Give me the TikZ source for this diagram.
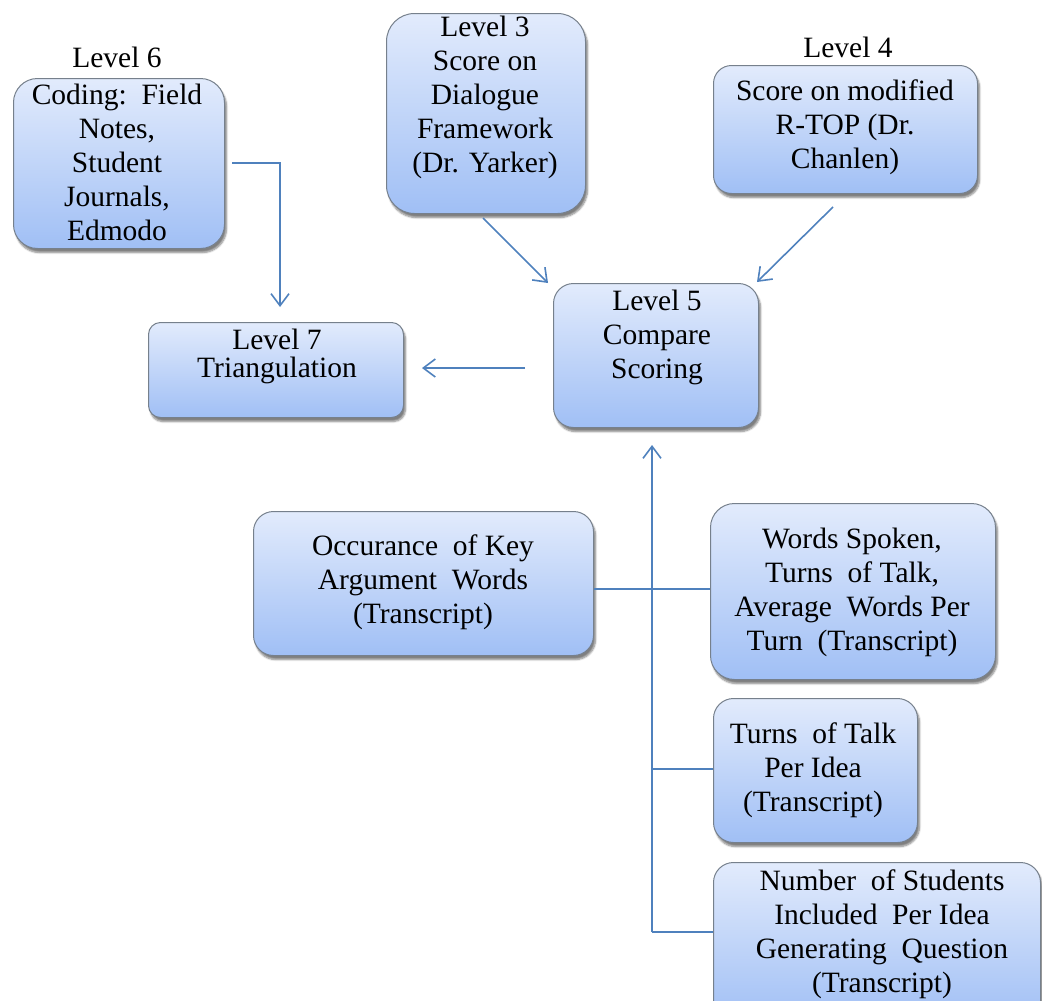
\documentclass[tikz,border=0pt]{standalone}
\usepackage{fontspec}
\setmainfont{LiberationSerif}[Extension=.ttf, UprightFont=*-Regular, BoldFont=*-Bold]
\usetikzlibrary{arrows.meta,shadows.blur}
\definecolor{boxtop}{RGB}{226,235,252}
\definecolor{boxbot}{RGB}{160,191,245}
\definecolor{boxline}{RGB}{118,128,140}
\definecolor{conn}{RGB}{79,129,189}
\tikzset{
  flowbox/.style={draw=boxline, line width=1pt, top color=boxtop, bottom color=boxbot,
    inner sep=0pt, anchor=north west,
    blur shadow={shadow xshift=2pt, shadow yshift=-4pt, shadow blur steps=6, shadow opacity=50}},
  txt/.style={align=center, text=black, inner sep=0pt, font=\fontsize{29.5}{34}\selectfont},
  conline/.style={draw=conn, line width=1.6pt},
  conarrow/.style={conline, -{Straight Barb[length=12pt,width=18pt,line width=1.6pt]}}
}
\begin{document}
\begin{tikzpicture}[x=1pt,y=-1pt]
\useasboundingbox (0,0) rectangle (1042,1001);
\begin{scope}
\clip (0,0) rectangle (1042,1001);
% boxes
\node[flowbox, rounded corners=24pt, minimum width=211pt, minimum height=170pt] (b6) at (13,78) {};
\node[flowbox, rounded corners=28pt, minimum width=199pt, minimum height=200pt] (b3) at (386,13) {};
\node[flowbox, rounded corners=18pt, minimum width=264pt, minimum height=128pt] (b4) at (713,65) {};
\node[flowbox, rounded corners=20pt, minimum width=205pt, minimum height=144pt] (b5) at (553,283) {};
\node[flowbox, rounded corners=12pt, minimum width=255pt, minimum height=95pt] (b7) at (148,322) {};
\node[flowbox, rounded corners=20pt, minimum width=340pt, minimum height=144pt] (bo) at (253,511) {};
\node[flowbox, rounded corners=24pt, minimum width=285pt, minimum height=176pt] (bw) at (710,503) {};
\node[flowbox, rounded corners=20pt, minimum width=204pt, minimum height=144pt] (bt) at (713,698) {};
\node[flowbox, rounded corners=20pt, minimum width=327pt, minimum height=160pt] (bn) at (713,862) {};
\end{scope}
% texts
\node[txt] (l6) at (117,57) {Level 6};
\node[txt] (t6) at (117,162) {Coding:\ \ Field\\Notes,\\Student\\Journals,\\Edmodo};
\node[txt] (t3) at (485,97) {Level 3\\Score on\\Dialogue\\Framework\\(Dr. Yarker)};
\node[txt] (l4) at (848,47) {Level 4};
\node[txt] (t4) at (845,127) {Score on modified\\R-TOP (Dr.\\Chanlen)};
\node[txt] (t5) at (657,337) {Level 5\\Compare\\Scoring};
\node[txt, font=\fontsize{29.5}{28}\selectfont] (t7) at (277,356) {Level 7\\Triangulation};
\node[txt] (to) at (423,582) {Occurance\ \ of Key\\Argument\ \ Words\\(Transcript)};
\node[txt] (tw) at (852,592) {Words Spoken,\\Turns\ \ of Talk,\\Average\ \ Words Per\\Turn\ \ (Transcript)};
\node[txt] (tt) at (813,770) {Turns\ \ of Talk\\Per Idea\\(Transcript)};
\node[txt] (tn) at (882,934) {Number\ \ of Students\\Included\ \ Per Idea\\Generating\ \ Question\\(Transcript)};
% connector points
\coordinate (c6s) at (232,163);
\coordinate (c6k) at (280,163);
\coordinate (c7t) at (280,307);
\coordinate (c3s) at (483,218);
\coordinate (c5a) at (548,283);
\coordinate (c4s) at (833,207);
\coordinate (c5b) at (757,282);
\coordinate (c5l) at (525,368);
\coordinate (c7r) at (422,368);
\coordinate (vtop) at (652,445);
\coordinate (vbot) at (652,932);
\coordinate (jo) at (652,589);
\coordinate (jt) at (652,769);
% connectors
\draw[conarrow] (c6s) -- (c6k) -- (c7t);
\draw[conarrow] (c3s) -- (c5a);
\draw[conarrow] (c4s) -- (c5b);
\draw[conarrow] (c5l) -- (c7r);
\draw[conarrow] (vbot) -- (vtop);
\draw[conline] (bo.east |- jo) -- (bw.west |- jo);
\draw[conline] (jt) -- (bt.west |- jt);
\draw[conline] (vbot) -- (bn.west |- vbot);
\end{tikzpicture}
\end{document}
